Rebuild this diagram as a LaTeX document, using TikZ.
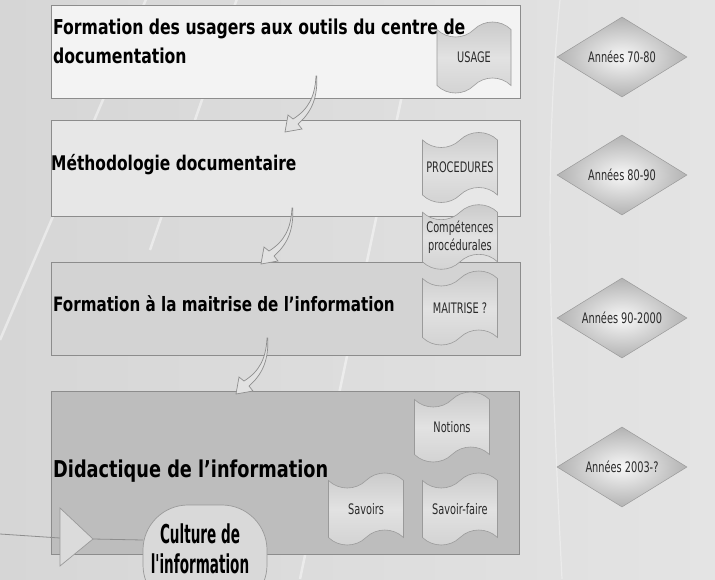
\documentclass[tikz,border=0pt]{standalone}
\usepackage{fontspec}
\usetikzlibrary{shapes.geometric,shapes.symbols}
\newfontfamily\tfa[FakeStretch=0.85]{DejaVu Sans Condensed Bold}
\newfontfamily\cultf[FakeStretch=0.58]{DejaVu Sans Condensed Bold}
\newfontfamily\smallf[FakeStretch=0.75]{DejaVu Sans Condensed}
\definecolor{bgl}{HTML}{D6D6D6}
\definecolor{bgr}{HTML}{E4E4E4}
\definecolor{boxline}{HTML}{8C8C8C}
\definecolor{fa}{HTML}{F3F3F3}
\definecolor{fb}{HTML}{E7E7E7}
\definecolor{fc}{HTML}{D3D3D3}
\definecolor{fd}{HTML}{BDBDBD}
\definecolor{tapeline}{HTML}{9A9A9A}
\definecolor{tapetop}{HTML}{C9C9C9}
\definecolor{tapemid}{HTML}{E2E2E2}
\definecolor{tapebot}{HTML}{D2D2D2}
\definecolor{labeltext}{HTML}{2A2A2A}
\definecolor{arrowfill}{HTML}{E2E2E2}
\definecolor{arrowline}{HTML}{8E8E8E}
\begin{document}
\begin{tikzpicture}[x=1pt,y=-1pt,
  stagebox/.style={draw=boxline, line width=0.8pt, rectangle, anchor=north west, inner sep=0pt, minimum width=469pt},
  titletext/.style={inner sep=0pt, text=black, align=left},
  tapebox/.style={tape, draw=tapeline, line width=0.6pt, top color=tapetop, bottom color=tapebot, middle color=tapemid,
     tape bend top=in and out, tape bend bottom=in and out, tape bend height=15pt,
     minimum width=75pt, minimum height=70pt, inner sep=1pt, align=center,
     font=\smallf\fontsize{14.5}{18}\selectfont, text=labeltext},
  period/.style={diamond, aspect=1.6, inner sep=0pt, minimum width=130pt, minimum height=80pt,
     draw=tapeline, line width=0.5pt, shading=radial, inner color=white!94!gray, outer color=black!30,
     font=\smallf\fontsize{14.5}{16}\selectfont, text=labeltext},
  streak/.style={white, opacity=0.45, line width=2.5pt},
  connector/.style={draw=arrowline, line width=0.8pt},
  bendarrow/.pic={
    \filldraw[fill=arrowfill, draw=arrowline, line width=0.7pt]
      (0,0) .. controls (-1,20) and (-7,33) .. (-23,43) -- (-28,39) -- (-31,56) -- (-14,53) -- (-18,48)
      .. controls (-3,35) and (1.5,20) .. (0.8,0) -- cycle;
  }
]
\useasboundingbox (0,0) rectangle (715,579);
\clip (0,0) rectangle (715,579);
\shade[left color=bgl, right color=bgr] (0,0) rectangle (715,579);
% background streaks
\draw[streak] (0,340) -- (150,-10);
\draw[streak] (150,250) -- (240,-10);
\draw[streak] (300,579) -- (420,10);
\draw[streak, line width=1.2pt, opacity=0.35] (560,0) .. controls (545,150) and (548,300) .. (562,579);

% stage boxes
\node[stagebox, fill=fa, minimum height=93pt] (b1) at (51,5) {};
\node[stagebox, fill=fb, minimum height=96pt] (b2) at (51,120) {};
\node[stagebox, fill=fc, minimum height=93pt] (b3) at (51,262) {};
\node[stagebox, fill=fd, minimum height=163pt, minimum width=468pt] (b4) at (51,391) {};

% titles
\node[titletext, anchor=north west, font=\tfa\fontsize{20.5}{29.3}\selectfont] (t1) at (53,18.4)
  {Formation des usagers aux outils du centre de\\documentation};
\node[titletext, anchor=base west, font=\tfa\fontsize{20.2}{24}\selectfont] (t2) at (51,170) {Méthodologie documentaire};
\node[titletext, anchor=base west, font=\tfa\fontsize{19.8}{24}\selectfont] (t3) at (53,311) {Formation à la maitrise de l’information};
\node[titletext, anchor=base west, font=\tfa\fontsize{23.2}{28}\selectfont] (t4) at (53,477) {Didactique de l’information};

% curved arrows
\pic at (316,76) {bendarrow};
\pic at (292,208) {bendarrow};
\pic at (267,338) {bendarrow};

% tapes
\node[tapebox, minimum width=74pt, minimum height=71pt] (usage) at (474,57.5) {USAGE};
\node[tapebox] (proc) at (460,167.5) {PROCEDURES};
\node[tapebox, minimum height=64pt] (comp) at (460,237) {Compétences\\procédurales};
\node[tapebox, minimum height=74pt] (mait) at (460,308) {MAITRISE ?};
\node[tapebox] (notions) at (452,427) {Notions};
\node[tapebox, minimum height=72pt] (savoirs) at (366,509) {Savoirs};
\node[tapebox, minimum height=72pt] (sfaire) at (460,509) {Savoir-faire};

% periods
\node[period] (p1) at (622,57) {Années 70-80};
\node[period] (p2) at (622,175) {Années 80-90};
\node[period] (p3) at (622,318) {Années 90-2000};
\node[period] (p4) at (622,467) {Années 2003-?};

% culture de l'information
\filldraw[rounded corners=45pt, draw=tapeline, line width=0.7pt, fill=black!15] (143,505) rectangle (267,610);
\node[inner sep=0pt, align=center, font=\cultf\fontsize{26}{30}\selectfont] (cult) at (200,549) {Culture de\\l'information};
\coordinate (cultw) at (143,540);
\coordinate (lft) at (0,534);
\coordinate (trib) at (60,538);
\coordinate (tria) at (93,539);
\draw[connector] (lft) -- (trib);
\draw[connector] (tria) -- (cultw);
\filldraw[fill=black!14, draw=tapeline, line width=0.7pt] (60,508) -- (tria) -- (60,566) -- cycle;
\end{tikzpicture}
\end{document}
